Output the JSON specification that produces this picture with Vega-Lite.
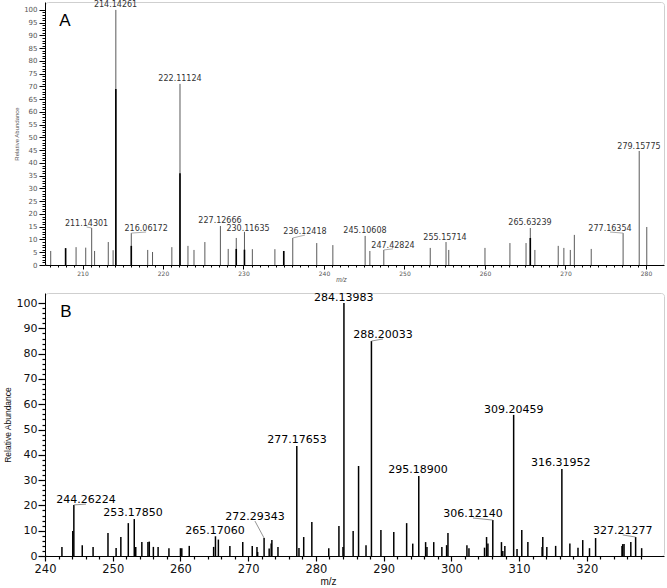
{
  "$schema": "https://vega.github.io/schema/vega-lite/v6.json",
  "padding": {"left": 2, "top": 0, "right": 3, "bottom": 0},
  "background": "white",
  "spacing": 8,
  "config": {
    "view": {"stroke": "#cfcfcf", "cornerRadius": 3},
    "font": "Liberation Sans",
    "axis": {"grid": false, "labelOverlap": false, "labelFlush": false, "labelBound": false, "domainColor": "#000", "tickColor": "#000", "titleFontWeight": "normal"}
  },
  "datasets": {
    "peaksA": [
      {"mz": 206.05, "intensity": 5.5}, {"mz": 207.9, "intensity": 6.6}, {"mz": 209.2, "intensity": 7},
      {"mz": 210.4, "intensity": 6.8}, {"mz": 211.14, "intensity": 14.5}, {"mz": 211.5, "intensity": 5.5},
      {"mz": 213.2, "intensity": 9}, {"mz": 213.8, "intensity": 5.8}, {"mz": 214.14, "intensity": 100},
      {"mz": 216.06, "intensity": 12.5}, {"mz": 218.1, "intensity": 5.9}, {"mz": 218.7, "intensity": 5.1},
      {"mz": 221.1, "intensity": 7}, {"mz": 222.11, "intensity": 71}, {"mz": 223.1, "intensity": 7.5},
      {"mz": 223.85, "intensity": 5.9}, {"mz": 225.2, "intensity": 9}, {"mz": 227.13, "intensity": 15.3},
      {"mz": 228.1, "intensity": 6.3}, {"mz": 229.1, "intensity": 10.6}, {"mz": 230.12, "intensity": 13},
      {"mz": 231.1, "intensity": 6.2}, {"mz": 233.9, "intensity": 6.2}, {"mz": 235.0, "intensity": 5.5},
      {"mz": 236.12, "intensity": 10.6}, {"mz": 239.1, "intensity": 8.6}, {"mz": 241.1, "intensity": 7.8},
      {"mz": 245.11, "intensity": 11.4}, {"mz": 245.7, "intensity": 5.5}, {"mz": 247.43, "intensity": 5.9},
      {"mz": 253.2, "intensity": 6.7}, {"mz": 255.16, "intensity": 9}, {"mz": 255.5, "intensity": 5.9},
      {"mz": 260.0, "intensity": 6.7}, {"mz": 263.1, "intensity": 8.6}, {"mz": 265.1, "intensity": 8.6},
      {"mz": 265.63, "intensity": 14.5}, {"mz": 266.2, "intensity": 5.9}, {"mz": 269.1, "intensity": 7.5},
      {"mz": 269.8, "intensity": 6.7}, {"mz": 270.6, "intensity": 5.9}, {"mz": 271.1, "intensity": 11.8},
      {"mz": 273.2, "intensity": 6.3}, {"mz": 277.16, "intensity": 12.5}, {"mz": 279.16, "intensity": 44.7},
      {"mz": 280.1, "intensity": 14.9}
    ],
    "peaksA2": [
      {"mz": 207.9, "intensity": 6.6}, {"mz": 214.14, "intensity": 69}, {"mz": 216.06, "intensity": 7.5},
      {"mz": 222.11, "intensity": 36}, {"mz": 229.1, "intensity": 6.3}, {"mz": 230.12, "intensity": 6},
      {"mz": 235.0, "intensity": 5.5}, {"mz": 265.63, "intensity": 10.6}
    ],
    "labelsA": [
      {"mz": 214.14, "intensity": 100, "label": "214.14261", "lx": 214.1, "ly": 102},
      {"mz": 222.11, "intensity": 71, "label": "222.11124", "lx": 222.11, "ly": 72.9},
      {"mz": 211.14, "intensity": 14.5, "label": "211.14301", "lx": 210.5, "ly": 16.1},
      {"mz": 216.06, "intensity": 12.5, "label": "216.06172", "lx": 217.9, "ly": 14.1},
      {"mz": 227.13, "intensity": 15.3, "label": "227.12666", "lx": 227.08, "ly": 17.3},
      {"mz": 230.12, "intensity": 13, "label": "230.11635", "lx": 230.56, "ly": 14.2},
      {"mz": 236.12, "intensity": 10.6, "label": "236.12418", "lx": 237.64, "ly": 12.9},
      {"mz": 245.11, "intensity": 11.4, "label": "245.10608", "lx": 245.09, "ly": 13.3},
      {"mz": 247.43, "intensity": 5.9, "label": "247.42824", "lx": 248.57, "ly": 7.5},
      {"mz": 255.16, "intensity": 9, "label": "255.15714", "lx": 255.03, "ly": 10.6},
      {"mz": 265.63, "intensity": 14.5, "label": "265.63239", "lx": 265.59, "ly": 16.5},
      {"mz": 277.16, "intensity": 12.5, "label": "277.16354", "lx": 275.53, "ly": 14.1},
      {"mz": 279.16, "intensity": 44.7, "label": "279.15775", "lx": 279.13, "ly": 46.3}
    ],
    "peaksB": [
      {"mz": 242.5, "intensity": 3.6}, {"mz": 244.1, "intensity": 9.9}, {"mz": 244.26, "intensity": 20.2},
      {"mz": 245.5, "intensity": 4.3}, {"mz": 247.1, "intensity": 3.6}, {"mz": 249.3, "intensity": 9.1},
      {"mz": 250.5, "intensity": 3.2}, {"mz": 251.2, "intensity": 7.5}, {"mz": 252.3, "intensity": 13},
      {"mz": 253.18, "intensity": 14.6}, {"mz": 253.4, "intensity": 3.6}, {"mz": 254.3, "intensity": 5.5},
      {"mz": 255.2, "intensity": 5.5}, {"mz": 255.4, "intensity": 5.7}, {"mz": 256.0, "intensity": 3.6},
      {"mz": 256.7, "intensity": 3.6}, {"mz": 258.3, "intensity": 3.1}, {"mz": 260.0, "intensity": 3.1},
      {"mz": 260.2, "intensity": 3.1}, {"mz": 261.3, "intensity": 4}, {"mz": 264.9, "intensity": 3.6},
      {"mz": 265.17, "intensity": 7.8}, {"mz": 265.6, "intensity": 6.5}, {"mz": 267.3, "intensity": 4},
      {"mz": 269.2, "intensity": 5.5}, {"mz": 270.6, "intensity": 4}, {"mz": 271.3, "intensity": 3.6},
      {"mz": 271.4, "intensity": 1.6}, {"mz": 272.35, "intensity": 7.1}, {"mz": 273.1, "intensity": 3},
      {"mz": 273.4, "intensity": 4.9}, {"mz": 273.5, "intensity": 6.3}, {"mz": 274.4, "intensity": 3.6},
      {"mz": 277.18, "intensity": 43.5}, {"mz": 277.5, "intensity": 3.2}, {"mz": 278.2, "intensity": 7.5},
      {"mz": 279.4, "intensity": 13.4}, {"mz": 281.9, "intensity": 3.1}, {"mz": 283.4, "intensity": 11.9},
      {"mz": 284.0, "intensity": 3.6}, {"mz": 284.14, "intensity": 100}, {"mz": 285.5, "intensity": 9.9},
      {"mz": 286.3, "intensity": 35.6}, {"mz": 287.4, "intensity": 4.3}, {"mz": 288.2, "intensity": 85},
      {"mz": 289.6, "intensity": 10.3}, {"mz": 291.5, "intensity": 9.5}, {"mz": 293.4, "intensity": 13},
      {"mz": 294.3, "intensity": 4.9}, {"mz": 295.19, "intensity": 31.6}, {"mz": 296.2, "intensity": 5.5},
      {"mz": 296.4, "intensity": 3.6}, {"mz": 297.4, "intensity": 5.5}, {"mz": 298.6, "intensity": 3.6},
      {"mz": 299.3, "intensity": 4.3}, {"mz": 299.5, "intensity": 9.1}, {"mz": 302.3, "intensity": 4.3},
      {"mz": 302.6, "intensity": 3.1}, {"mz": 304.9, "intensity": 3.3}, {"mz": 305.2, "intensity": 7.5},
      {"mz": 305.4, "intensity": 4.9}, {"mz": 306.12, "intensity": 14.2}, {"mz": 307.4, "intensity": 5.5},
      {"mz": 307.6, "intensity": 2}, {"mz": 307.9, "intensity": 4}, {"mz": 309.2, "intensity": 55.8},
      {"mz": 309.7, "intensity": 2.8}, {"mz": 310.4, "intensity": 10.3}, {"mz": 311.3, "intensity": 5.5},
      {"mz": 313.4, "intensity": 3.6}, {"mz": 313.5, "intensity": 7.5}, {"mz": 314.1, "intensity": 3.6},
      {"mz": 315.4, "intensity": 4}, {"mz": 316.32, "intensity": 34.4}, {"mz": 317.5, "intensity": 4.9},
      {"mz": 318.7, "intensity": 3.3}, {"mz": 319.4, "intensity": 6.3}, {"mz": 320.4, "intensity": 3.1},
      {"mz": 321.3, "intensity": 7.1}, {"mz": 325.2, "intensity": 4}, {"mz": 325.3, "intensity": 4.7},
      {"mz": 325.5, "intensity": 4.7}, {"mz": 326.5, "intensity": 5.5}, {"mz": 327.21, "intensity": 7.5},
      {"mz": 328.1, "intensity": 3.1}
    ],
    "labelsB": [
      {"mz": 244.26, "intensity": 20.2, "label": "244.26224", "lx": 246.05, "ly": 22.1},
      {"mz": 253.18, "intensity": 14.6, "label": "253.17850", "lx": 252.99, "ly": 17.0},
      {"mz": 265.17, "intensity": 7.8, "label": "265.17060", "lx": 265.09, "ly": 9.9},
      {"mz": 272.35, "intensity": 7.1, "label": "272.29343", "lx": 271.0, "ly": 15.4},
      {"mz": 277.18, "intensity": 43.5, "label": "277.17653", "lx": 277.2, "ly": 45.8},
      {"mz": 284.14, "intensity": 100, "label": "284.13983", "lx": 284.13, "ly": 102},
      {"mz": 288.2, "intensity": 85, "label": "288.20033", "lx": 289.9, "ly": 87.4},
      {"mz": 295.19, "intensity": 31.6, "label": "295.18900", "lx": 295.06, "ly": 34},
      {"mz": 306.12, "intensity": 14.2, "label": "306.12140", "lx": 303.2, "ly": 16.6},
      {"mz": 309.2, "intensity": 55.8, "label": "309.20459", "lx": 309.23, "ly": 57.7},
      {"mz": 316.32, "intensity": 34.4, "label": "316.31952", "lx": 316.16, "ly": 36.8},
      {"mz": 327.21, "intensity": 7.5, "label": "327.21277", "lx": 325.3, "ly": 9.9}
    ]
  },
  "vconcat": [
    {
      "width": 619,
      "height": 263,
      "resolve": {"axis": {"x": "independent", "y": "independent"}},
      "layer": [
        {
          "data": {"name": "peaksA"},
          "mark": {"type": "rule", "color": "#5a5a5a", "strokeWidth": 1},
          "encoding": {
            "x": {
              "field": "mz", "type": "quantitative",
              "scale": {"domain": [205.34, 282.24], "nice": false, "zero": false},
              "axis": {
                "orient": "bottom",
                "values": [210,220,230,240,250,260,270,280],
                "tickSize": 4,
                "labelFont": "DejaVu Sans", "labelFontSize": 6, "labelColor": "#555", "labelPadding": 1,
                "title": "m/z", "titleFontSize": 6.5, "titleFontStyle": "italic", "titleColor": "#555", "titlePadding": 0, "titleX": 296
              }
            },
            "y": {
              "field": "intensity", "type": "quantitative",
              "scale": {"domain": [0, 103.1], "nice": false},
              "axis": {
                "orient": "left",
                "values": [0,5,10,15,20,25,30,35,40,45,50,55,60,65,70,75,80,85,90,95,100],
                "tickSize": 6,
                "labelFont": "DejaVu Sans", "labelFontSize": 7, "labelColor": "#555", "labelPadding": 2,
                "title": "Relative Abundance", "titleFontSize": 6, "titleColor": "#555", "titlePadding": 4
              }
            },
            "y2": {"datum": 0}
          }
        },
        {
          "data": {"name": "peaksA2"},
          "mark": {"type": "rule", "color": "#000", "strokeWidth": 1.6},
          "encoding": {
            "x": {"field": "mz", "type": "quantitative",
              "axis": {"orient": "bottom", "values": [206,207,208,209,211,212,213,214,215,216,217,218,219,221,222,223,224,225,226,227,228,229,231,232,233,234,235,236,237,238,239,241,242,243,244,245,246,247,248,249,251,252,253,254,255,256,257,258,259,261,262,263,264,265,266,267,268,269,271,272,273,274,275,276,277,278,279], "labels": false, "domain": false, "title": null, "tickSize": 2}},
            "y": {"field": "intensity", "type": "quantitative",
              "axis": {"orient": "left", "values": [1,2,3,4,6,7,8,9,11,12,13,14,16,17,18,19,21,22,23,24,26,27,28,29,31,32,33,34,36,37,38,39,41,42,43,44,46,47,48,49,51,52,53,54,56,57,58,59,61,62,63,64,66,67,68,69,71,72,73,74,76,77,78,79,81,82,83,84,86,87,88,89,91,92,93,94,96,97,98,99], "labels": false, "domain": false, "title": null, "tickSize": 3}},
            "y2": {"datum": 0}
          }
        },
        {
          "data": {"name": "labelsA"},
          "transform": [{"filter": "abs(datum.lx - datum.mz) > 0.5"}],
          "mark": {"type": "rule", "color": "#888", "strokeWidth": 0.7, "y2Offset": 3},
          "encoding": {
            "x": {"field": "mz", "type": "quantitative", "axis": null},
            "y": {"field": "intensity", "type": "quantitative", "axis": null},
            "x2": {"field": "lx"},
            "y2": {"field": "ly"}
          }
        },
        {
          "data": {"name": "labelsA"},
          "mark": {"type": "text", "font": "DejaVu Sans", "fontSize": 8, "color": "#333", "baseline": "middle"},
          "encoding": {
            "x": {"field": "lx", "type": "quantitative", "axis": null},
            "y": {"field": "ly", "type": "quantitative", "axis": null},
            "text": {"field": "label"}
          }
        },
        {
          "data": {"values": [{"panel": "A", "px": 207.8, "py": 95.7}]},
          "mark": {"type": "text", "font": "Liberation Sans", "fontSize": 17, "color": "#000", "baseline": "middle"},
          "encoding": {
            "x": {"field": "px", "type": "quantitative", "axis": null},
            "y": {"field": "py", "type": "quantitative", "axis": null},
            "text": {"field": "panel"}
          }
        }
      ]
    },
    {
      "width": 619,
      "height": 263,
      "resolve": {"axis": {"x": "independent", "y": "independent"}},
      "layer": [
        {
          "data": {"name": "peaksB"},
          "mark": {"type": "rule", "color": "#000", "strokeWidth": 1.5},
          "encoding": {
            "x": {
              "field": "mz", "type": "quantitative",
              "scale": {"domain": [240, 331.4], "nice": false, "zero": false},
              "axis": {
                "orient": "bottom",
                "values": [240,250,260,270,280,290,300,310,320],
                "tickSize": 5, "tickWidth": 1.2,
                "labelFont": "DejaVu Sans", "labelFontSize": 11.5, "labelColor": "#111", "labelPadding": 2,
                "title": "m/z", "titleFontSize": 10, "titleColor": "#111", "titlePadding": 2, "titleX": 283
              }
            },
            "y": {
              "field": "intensity", "type": "quantitative",
              "scale": {"domain": [0, 104], "nice": false},
              "axis": {
                "orient": "left",
                "values": [0,10,20,30,40,50,60,70,80,90,100],
                "tickSize": 7, "tickWidth": 1.2,
                "labelFont": "DejaVu Sans", "labelFontSize": 11, "labelColor": "#111", "labelPadding": 1,
                "title": "Relative Abundance", "titleFontSize": 8.5, "titleColor": "#111", "titlePadding": 4
              }
            },
            "y2": {"datum": 0}
          }
        },
        {
          "data": {"name": "labelsB"},
          "transform": [{"filter": "abs(datum.lx - datum.mz) > 0.5"}],
          "mark": {"type": "rule", "color": "#777", "strokeWidth": 0.8, "y2Offset": 4},
          "encoding": {
            "x": {"field": "mz", "type": "quantitative",
              "axis": {"orient": "bottom", "values": [242,244,246,248,252,254,256,258,262,264,266,268,272,274,276,278,282,284,286,288,292,294,296,298,302,304,306,308,312,314,316,318,322,324,326,328], "labels": false, "domain": false, "title": null, "tickSize": 3, "tickWidth": 1.2}},
            "y": {"field": "intensity", "type": "quantitative",
              "axis": {"orient": "left", "values": [2,4,6,8,12,14,16,18,22,24,26,28,32,34,36,38,42,44,46,48,52,54,56,58,62,64,66,68,72,74,76,78,82,84,86,88,92,94,96,98], "labels": false, "domain": false, "title": null, "tickSize": 3, "tickWidth": 1.2}},
            "x2": {"field": "lx"},
            "y2": {"field": "ly"}
          }
        },
        {
          "data": {"name": "labelsB"},
          "mark": {"type": "text", "font": "DejaVu Sans", "fontSize": 11, "color": "#000", "baseline": "middle"},
          "encoding": {
            "x": {"field": "lx", "type": "quantitative", "axis": null},
            "y": {"field": "ly", "type": "quantitative", "axis": null},
            "text": {"field": "label"}
          }
        },
        {
          "data": {"values": [{"panel": "B", "px": 243.1, "py": 96.4}]},
          "mark": {"type": "text", "font": "Liberation Sans", "fontSize": 17, "color": "#000", "baseline": "middle"},
          "encoding": {
            "x": {"field": "px", "type": "quantitative", "axis": null},
            "y": {"field": "py", "type": "quantitative", "axis": null},
            "text": {"field": "panel"}
          }
        }
      ]
    }
  ]
}
